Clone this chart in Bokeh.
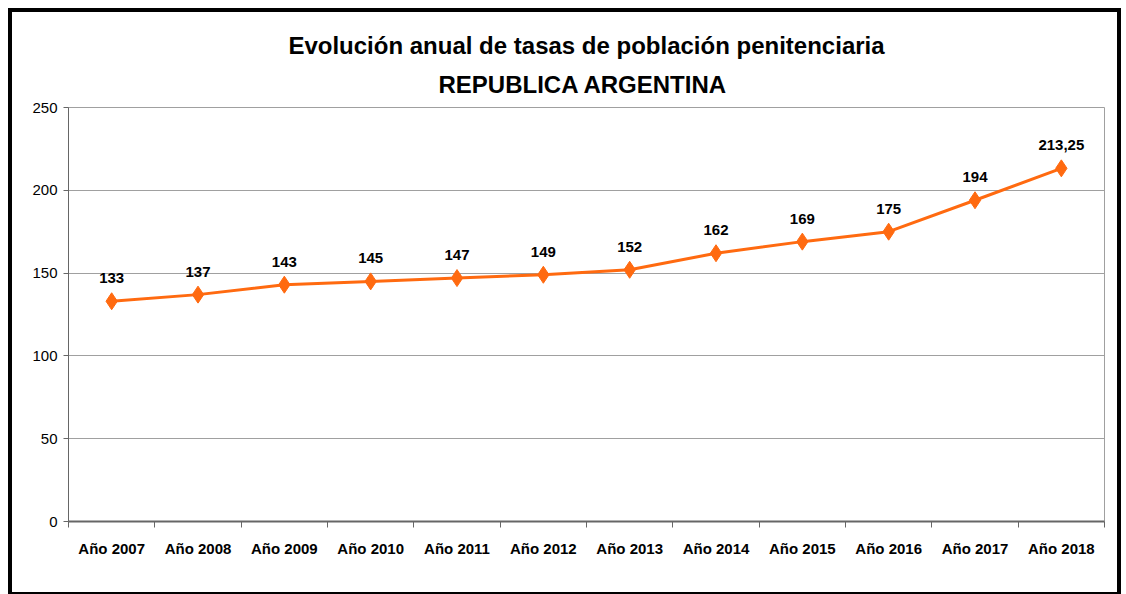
from bokeh.plotting import figure
from bokeh.models import ColumnDataSource, FixedTicker, Title, Range1d, LabelSet
from bokeh.core.properties import value
from bokeh.embed import file_html
from bokeh.resources import INLINE

years = ["Año 2007", "Año 2008", "Año 2009", "Año 2010", "Año 2011", "Año 2012",
         "Año 2013", "Año 2014", "Año 2015", "Año 2016", "Año 2017", "Año 2018"]
rates = [133, 137, 143, 145, 147, 149, 152, 162, 169, 175, 194, 213.25]
rate_labels = ["133", "137", "143", "145", "147", "149", "152", "162", "169", "175", "194", "213,25"]
y_ticks = [0, 50, 100, 150, 200, 250]

FONT = "Liberation Sans"

xs = [i + 0.5 for i in range(len(years))]
src = ColumnDataSource(dict(x=xs, y=rates, lab=rate_labels))

p = figure(width=1113, height=588, output_backend="svg", toolbar_location=None,
           x_range=Range1d(0, len(years)), y_range=Range1d(0, 250),
           min_border_left=56, min_border_right=21, min_border_top=95, min_border_bottom=79)
p.styles = {"border": "4px solid black", "margin-left": "8px", "margin-top": "8px"}

p.add_layout(Title(text="REPUBLICA  ARGENTINA", align="center", text_font=FONT,
                   text_font_size="24px", text_font_style="bold", text_color="black",
                   standoff=20), "above")
p.add_layout(Title(text="Evolución anual de tasas de población penitenciaria", align="center",
                   text_font=FONT, text_font_size="24px", text_font_style="bold",
                   text_color="black", standoff=0), "above")

p.line("x", "y", source=src, line_color="#FF6A10", line_width=3)
p.scatter("x", "y", source=src, marker="diamond", size=17, fill_color="#FF6A10",
          line_color="#FF6A10")
p.add_layout(LabelSet(x="x", y="y", text="lab", source=src, y_offset=18, text_align="center",
                      text_baseline="bottom", text_font=value(FONT), text_font_size=value("15px"),
                      text_font_style="bold", text_color="black"))

p.xaxis.ticker = FixedTicker(ticks=xs, minor_ticks=list(range(len(years) + 1)))
p.xaxis.major_label_overrides = {x: y for x, y in zip(xs, years)}
p.xaxis.major_tick_line_color = None
p.xaxis.minor_tick_in = 0
p.xaxis.minor_tick_out = 6
p.xaxis.minor_tick_line_color = "#666666"
p.xaxis.axis_line_color = "#666666"
p.xaxis.axis_line_width = 2
p.xaxis.major_label_text_font = FONT
p.xaxis.major_label_text_font_size = "15px"
p.xaxis.major_label_text_font_style = "bold"
p.xaxis.major_label_text_color = "black"
p.xaxis.major_label_standoff = 12

p.yaxis.ticker = FixedTicker(ticks=y_ticks)
p.yaxis.minor_tick_line_color = None
p.yaxis.major_tick_in = 0
p.yaxis.major_tick_out = 5
p.yaxis.major_tick_line_color = "#666666"
p.yaxis.axis_line_color = "#666666"
p.yaxis.major_label_text_font = FONT
p.yaxis.major_label_text_font_size = "15px"
p.yaxis.major_label_text_color = "black"
p.yaxis.major_label_standoff = 6

p.xgrid.grid_line_color = None
p.ygrid.grid_line_color = "#a0a0a0"
p.ygrid.grid_line_width = 1
p.outline_line_color = "#a0a0a0"
p.background_fill_color = "white"
p.border_fill_color = "white"

open("out.html", "w").write(file_html(p, INLINE))
